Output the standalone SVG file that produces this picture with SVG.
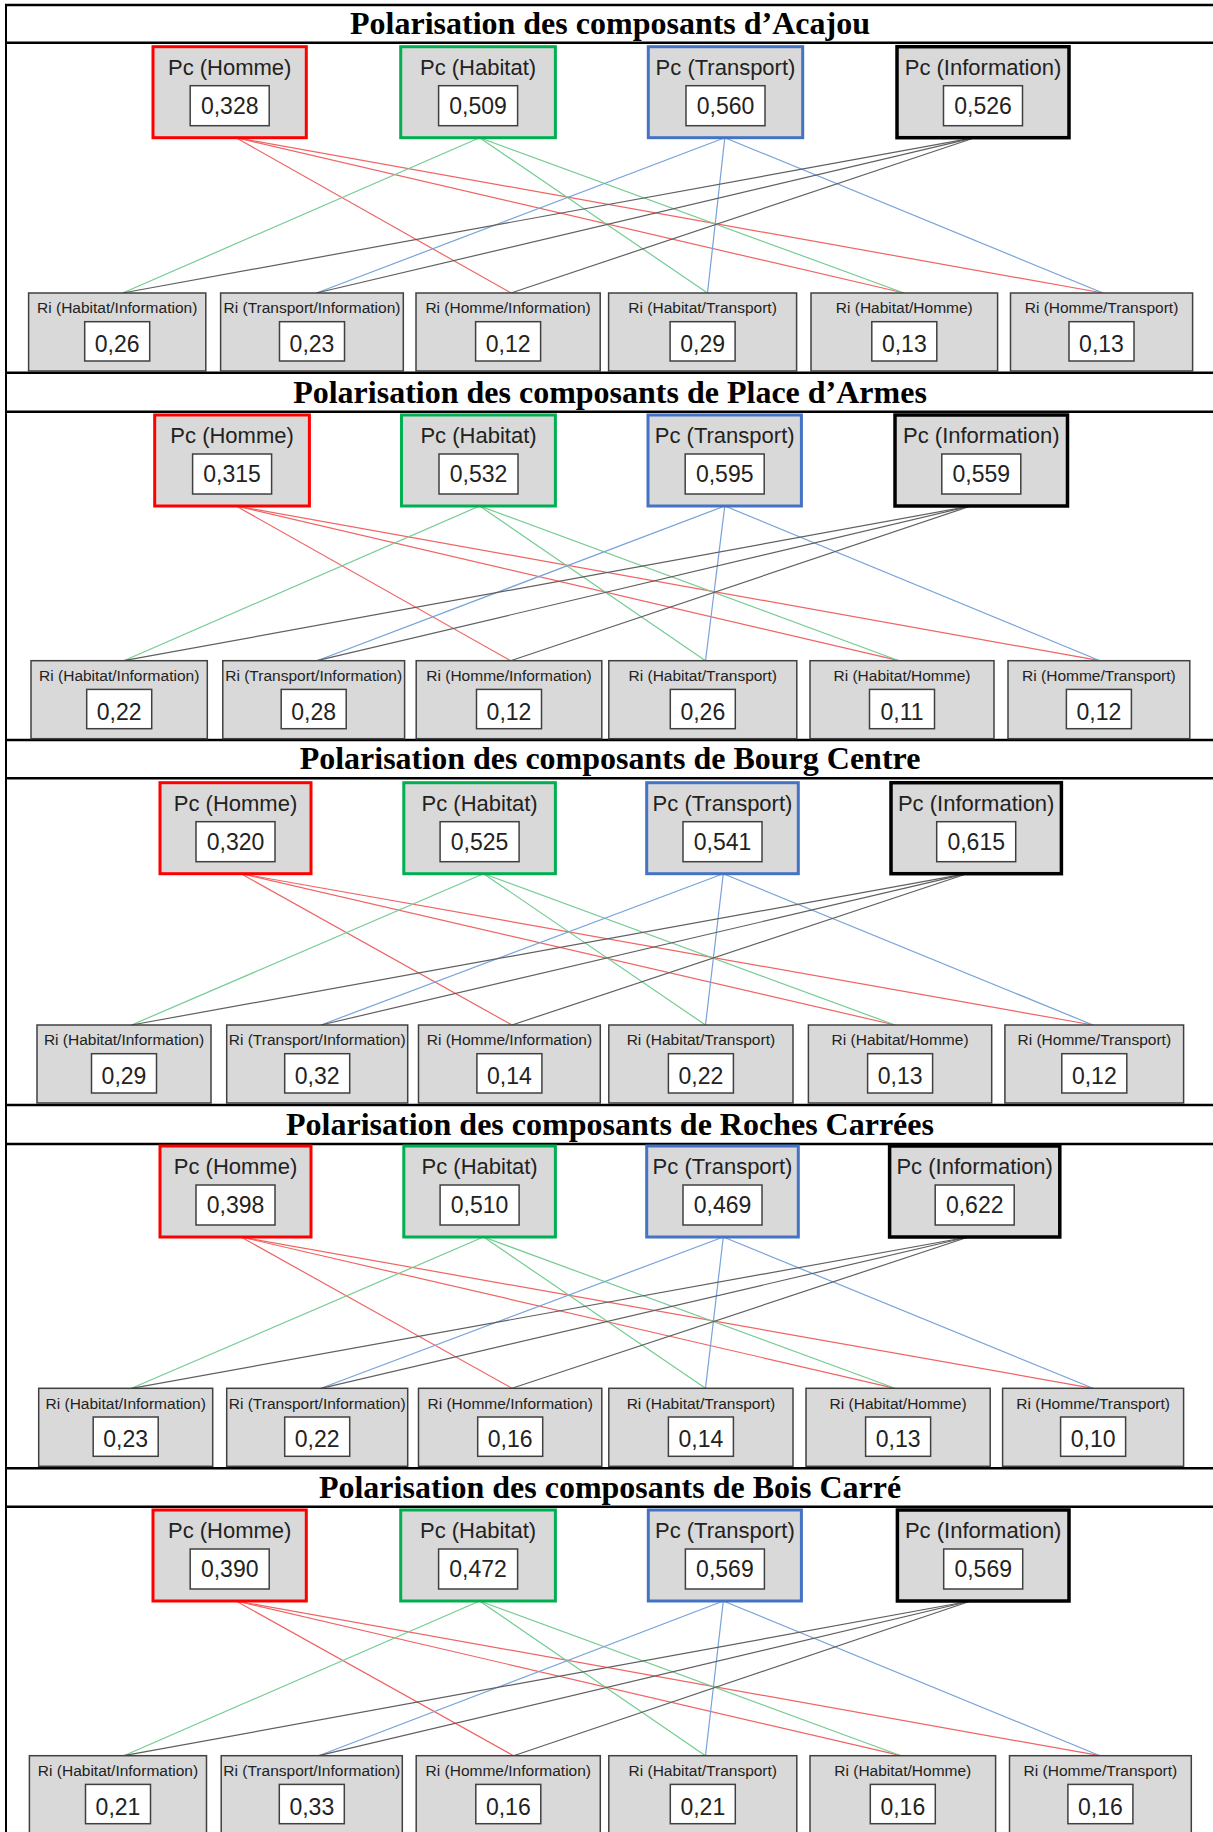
<svg xmlns="http://www.w3.org/2000/svg" width="1213" height="1832" viewBox="0 0 1213 1832">
<style>
  .bg{fill:#ffffff}
  .rule{stroke:#000;stroke-width:2.5}
  .edge{stroke:#000;stroke-width:2}
  .title{font-family:"Liberation Serif","Times New Roman",serif;font-weight:bold;font-size:32px;fill:#000;text-anchor:middle}
  .box{fill:#d9d9d9;stroke-width:3}
  .h{stroke:#ff0000}
  .hab{stroke:#00b050}
  .t{stroke:#4472c4}
  .i{stroke:#000000;stroke-width:3.5}
  .ri{fill:#d9d9d9;stroke:#404040;stroke-width:1.5}
  .val{fill:#ffffff;stroke:#404040;stroke-width:1.5}
  text{font-family:"Liberation Sans",Arial,sans-serif;fill:#222;text-anchor:middle}
  .pl{font-size:22px}
  .pv{font-size:23px}
  .rl{font-size:15.5px}
  .rv{font-size:23px}
  .c{stroke-width:1.2;fill:none}
  .cr{stroke:#f06464}
  .cg{stroke:#74cc92}
  .cb{stroke:#78a2da}
  .ck{stroke:#606060}
</style>
<rect class="bg" x="0" y="0" width="1213" height="1832"/>

<!-- connectors: each Pc links to the three Ri pairs it takes part in -->
<g id="connectors" class="c">
  <!-- Acajou -->
  <line class="cr" x1="236" y1="137.7" x2="511" y2="293"/>
  <line class="cr" x1="236" y1="137.7" x2="904" y2="293"/>
  <line class="cr" x1="236" y1="137.7" x2="1103" y2="293"/>
  <line class="cg" x1="479.6" y1="137.7" x2="122.6" y2="293"/>
  <line class="cg" x1="479.6" y1="137.7" x2="707.5" y2="293"/>
  <line class="cg" x1="479.6" y1="137.7" x2="904" y2="293"/>
  <line class="cb" x1="724.8" y1="137.7" x2="316.5" y2="293"/>
  <line class="cb" x1="724.8" y1="137.7" x2="707.5" y2="293"/>
  <line class="cb" x1="724.8" y1="137.7" x2="1103" y2="293"/>
  <line class="ck" x1="974.7" y1="137.7" x2="122.6" y2="293"/>
  <line class="ck" x1="974.7" y1="137.7" x2="316.5" y2="293"/>
  <line class="ck" x1="974.7" y1="137.7" x2="511" y2="293"/>
  <!-- Place d'Armes -->
  <line class="cr" x1="236" y1="506" x2="510.6" y2="660.7"/>
  <line class="cr" x1="236" y1="506" x2="899" y2="660.7"/>
  <line class="cr" x1="236" y1="506" x2="1100" y2="660.7"/>
  <line class="cg" x1="479.6" y1="506" x2="123.8" y2="660.7"/>
  <line class="cg" x1="479.6" y1="506" x2="705.5" y2="660.7"/>
  <line class="cg" x1="479.6" y1="506" x2="899" y2="660.7"/>
  <line class="cb" x1="724.8" y1="506" x2="317" y2="660.7"/>
  <line class="cb" x1="724.8" y1="506" x2="705.5" y2="660.7"/>
  <line class="cb" x1="724.8" y1="506" x2="1100" y2="660.7"/>
  <line class="ck" x1="970.8" y1="506" x2="123.8" y2="660.7"/>
  <line class="ck" x1="970.8" y1="506" x2="317" y2="660.7"/>
  <line class="ck" x1="970.8" y1="506" x2="510.6" y2="660.7"/>
  <!-- Bourg Centre -->
  <line class="cr" x1="241" y1="873.7" x2="512" y2="1025"/>
  <line class="cr" x1="241" y1="873.7" x2="895" y2="1025"/>
  <line class="cr" x1="241" y1="873.7" x2="1093" y2="1025"/>
  <line class="cg" x1="483.5" y1="873.7" x2="131.5" y2="1025"/>
  <line class="cg" x1="483.5" y1="873.7" x2="705.5" y2="1025"/>
  <line class="cg" x1="483.5" y1="873.7" x2="895" y2="1025"/>
  <line class="cb" x1="723.3" y1="873.7" x2="321" y2="1025"/>
  <line class="cb" x1="723.3" y1="873.7" x2="705.5" y2="1025"/>
  <line class="cb" x1="723.3" y1="873.7" x2="1093" y2="1025"/>
  <line class="ck" x1="967" y1="873.7" x2="131.5" y2="1025"/>
  <line class="ck" x1="967" y1="873.7" x2="321" y2="1025"/>
  <line class="ck" x1="967" y1="873.7" x2="512" y2="1025"/>
  <!-- Roches Carrées -->
  <line class="cr" x1="241" y1="1237" x2="512" y2="1388.3"/>
  <line class="cr" x1="241" y1="1237" x2="895" y2="1388.3"/>
  <line class="cr" x1="241" y1="1237" x2="1093" y2="1388.3"/>
  <line class="cg" x1="483.5" y1="1237" x2="131.5" y2="1388.3"/>
  <line class="cg" x1="483.5" y1="1237" x2="705.5" y2="1388.3"/>
  <line class="cg" x1="483.5" y1="1237" x2="895" y2="1388.3"/>
  <line class="cb" x1="723.3" y1="1237" x2="321" y2="1388.3"/>
  <line class="cb" x1="723.3" y1="1237" x2="705.5" y2="1388.3"/>
  <line class="cb" x1="723.3" y1="1237" x2="1093" y2="1388.3"/>
  <line class="ck" x1="968.5" y1="1237" x2="131.5" y2="1388.3"/>
  <line class="ck" x1="968.5" y1="1237" x2="321" y2="1388.3"/>
  <line class="ck" x1="968.5" y1="1237" x2="512" y2="1388.3"/>
  <!-- Bois Carré -->
  <line class="cr" x1="236" y1="1601" x2="513.6" y2="1755.7"/>
  <line class="cr" x1="236" y1="1601" x2="901" y2="1755.7"/>
  <line class="cr" x1="236" y1="1601" x2="1100" y2="1755.7"/>
  <line class="cg" x1="479.6" y1="1601" x2="123.8" y2="1755.7"/>
  <line class="cg" x1="479.6" y1="1601" x2="705.5" y2="1755.7"/>
  <line class="cg" x1="479.6" y1="1601" x2="901" y2="1755.7"/>
  <line class="cb" x1="723.3" y1="1601" x2="318.7" y2="1755.7"/>
  <line class="cb" x1="723.3" y1="1601" x2="705.5" y2="1755.7"/>
  <line class="cb" x1="723.3" y1="1601" x2="1100" y2="1755.7"/>
  <line class="ck" x1="970.8" y1="1601" x2="123.8" y2="1755.7"/>
  <line class="ck" x1="970.8" y1="1601" x2="318.7" y2="1755.7"/>
  <line class="ck" x1="970.8" y1="1601" x2="513.6" y2="1755.7"/>
</g>

<!-- table rules -->
<g id="rules">
  <line class="edge" x1="6" y1="4" x2="6" y2="1832"/>
  <line class="rule" x1="5" y1="5" x2="1213" y2="5"/>
  <line class="rule" x1="5" y1="42.7" x2="1213" y2="42.7"/>
  <line class="rule" x1="5" y1="372.7" x2="1213" y2="372.7"/>
  <line class="rule" x1="5" y1="411.7" x2="1213" y2="411.7"/>
  <line class="rule" x1="5" y1="740" x2="1213" y2="740"/>
  <line class="rule" x1="5" y1="778.3" x2="1213" y2="778.3"/>
  <line class="rule" x1="5" y1="1105" x2="1213" y2="1105"/>
  <line class="rule" x1="5" y1="1144" x2="1213" y2="1144"/>
  <line class="rule" x1="5" y1="1468.3" x2="1213" y2="1468.3"/>
  <line class="rule" x1="5" y1="1506.7" x2="1213" y2="1506.7"/>
</g>

<!-- ===== Acajou ===== -->
<g id="acajou">
  <text class="title" x="610" y="34">Polarisation des composants d’Acajou</text>
  <g id="acajou-pc-homme" transform="translate(153,46.7)"><rect class="box h" width="153.3" height="91"/><rect class="val" x="37.2" y="39" width="79" height="40"/><text class="pl" x="76.7" y="28.3">Pc (Homme)</text><text class="pv" x="76.7" y="67">0,328</text></g>
  <g id="acajou-pc-habitat" transform="translate(400.7,46.7)"><rect class="box hab" width="154.7" height="91"/><rect class="val" x="37.9" y="39" width="79" height="40"/><text class="pl" x="77.4" y="28.3">Pc (Habitat)</text><text class="pv" x="77.4" y="67">0,509</text></g>
  <g id="acajou-pc-transport" transform="translate(648.3,46.7)"><rect class="box t" width="154.4" height="91"/><rect class="val" x="37.7" y="39" width="79" height="40"/><text class="pl" x="77.2" y="28.3">Pc (Transport)</text><text class="pv" x="77.2" y="67">0,560</text></g>
  <g id="acajou-pc-information" transform="translate(897,46.7)"><rect class="box i" width="172" height="91"/><rect class="val" x="46.5" y="39" width="79" height="40"/><text class="pl" x="86" y="28.3">Pc (Information)</text><text class="pv" x="86" y="67">0,526</text></g>
  <g id="acajou-ri-habitat-information" transform="translate(28.6,293)"><rect class="ri" width="177.2" height="78"/><rect class="val" x="56.1" y="28.7" width="65" height="39.3"/><text class="rl" x="88.6" y="20.3">Ri (Habitat/Information)</text><text class="rv" x="88.6" y="59">0,26</text></g>
  <g id="acajou-ri-transport-information" transform="translate(220.6,293)"><rect class="ri" width="182.7" height="78"/><rect class="val" x="58.9" y="28.7" width="65" height="39.3"/><text class="rl" x="91.4" y="20.3">Ri (Transport/Information)</text><text class="rv" x="91.4" y="59">0,23</text></g>
  <g id="acajou-ri-homme-information" transform="translate(416,293)"><rect class="ri" width="184.2" height="78"/><rect class="val" x="59.6" y="28.7" width="65" height="39.3"/><text class="rl" x="92.1" y="20.3">Ri (Homme/Information)</text><text class="rv" x="92.1" y="59">0,12</text></g>
  <g id="acajou-ri-habitat-transport" transform="translate(608.6,293)"><rect class="ri" width="188" height="78"/><rect class="val" x="61.5" y="28.7" width="65" height="39.3"/><text class="rl" x="94" y="20.3">Ri (Habitat/Transport)</text><text class="rv" x="94" y="59">0,29</text></g>
  <g id="acajou-ri-habitat-homme" transform="translate(811,293)"><rect class="ri" width="186.6" height="78"/><rect class="val" x="60.8" y="28.7" width="65" height="39.3"/><text class="rl" x="93.3" y="20.3">Ri (Habitat/Homme)</text><text class="rv" x="93.3" y="59">0,13</text></g>
  <g id="acajou-ri-homme-transport" transform="translate(1010.5,293)"><rect class="ri" width="182.1" height="78"/><rect class="val" x="58.5" y="28.7" width="65" height="39.3"/><text class="rl" x="91" y="20.3">Ri (Homme/Transport)</text><text class="rv" x="91" y="59">0,13</text></g>
</g>

<!-- ===== Place d'Armes ===== -->
<g id="place-armes">
  <text class="title" x="610" y="402.7">Polarisation des composants de Place d’Armes</text>
  <g id="place-armes-pc-homme" transform="translate(154.7,415)"><rect class="box h" width="154.7" height="91"/><rect class="val" x="37.9" y="39" width="79" height="40"/><text class="pl" x="77.4" y="28.3">Pc (Homme)</text><text class="pv" x="77.4" y="67">0,315</text></g>
  <g id="place-armes-pc-habitat" transform="translate(401.5,415)"><rect class="box hab" width="153.9" height="91"/><rect class="val" x="37.5" y="39" width="79" height="40"/><text class="pl" x="77" y="28.3">Pc (Habitat)</text><text class="pv" x="77" y="67">0,532</text></g>
  <g id="place-armes-pc-transport" transform="translate(648,415)"><rect class="box t" width="153.4" height="91"/><rect class="val" x="37.2" y="39" width="79" height="40"/><text class="pl" x="76.7" y="28.3">Pc (Transport)</text><text class="pv" x="76.7" y="67">0,595</text></g>
  <g id="place-armes-pc-information" transform="translate(895,415)"><rect class="box i" width="172.5" height="91"/><rect class="val" x="46.8" y="39" width="79" height="40"/><text class="pl" x="86.3" y="28.3">Pc (Information)</text><text class="pv" x="86.3" y="67">0,559</text></g>
  <g id="place-armes-ri-habitat-information" transform="translate(31,660.7)"><rect class="ri" width="176.3" height="78"/><rect class="val" x="55.7" y="28.7" width="65" height="39.3"/><text class="rl" x="88.2" y="20.3">Ri (Habitat/Information)</text><text class="rv" x="88.2" y="59">0,22</text></g>
  <g id="place-armes-ri-transport-information" transform="translate(222.8,660.7)"><rect class="ri" width="181.8" height="78"/><rect class="val" x="58.4" y="28.7" width="65" height="39.3"/><text class="rl" x="90.9" y="20.3">Ri (Transport/Information)</text><text class="rv" x="90.9" y="59">0,28</text></g>
  <g id="place-armes-ri-homme-information" transform="translate(416.2,660.7)"><rect class="ri" width="185.6" height="78"/><rect class="val" x="60.3" y="28.7" width="65" height="39.3"/><text class="rl" x="92.8" y="20.3">Ri (Homme/Information)</text><text class="rv" x="92.8" y="59">0,12</text></g>
  <g id="place-armes-ri-habitat-transport" transform="translate(608.8,660.7)"><rect class="ri" width="188" height="78"/><rect class="val" x="61.5" y="28.7" width="65" height="39.3"/><text class="rl" x="94" y="20.3">Ri (Habitat/Transport)</text><text class="rv" x="94" y="59">0,26</text></g>
  <g id="place-armes-ri-habitat-homme" transform="translate(810,660.7)"><rect class="ri" width="184" height="78"/><rect class="val" x="59.5" y="28.7" width="65" height="39.3"/><text class="rl" x="92" y="20.3">Ri (Habitat/Homme)</text><text class="rv" x="92" y="59">0,11</text></g>
  <g id="place-armes-ri-homme-transport" transform="translate(1008,660.7)"><rect class="ri" width="181.8" height="78"/><rect class="val" x="58.4" y="28.7" width="65" height="39.3"/><text class="rl" x="90.9" y="20.3">Ri (Homme/Transport)</text><text class="rv" x="90.9" y="59">0,12</text></g>
</g>

<!-- ===== Bourg Centre ===== -->
<g id="bourg-centre">
  <text class="title" x="610" y="769.3">Polarisation des composants de Bourg Centre</text>
  <g id="bourg-centre-pc-homme" transform="translate(160,782.7)"><rect class="box h" width="151" height="91"/><rect class="val" x="36" y="39" width="79" height="40"/><text class="pl" x="75.5" y="28.3">Pc (Homme)</text><text class="pv" x="75.5" y="67">0,320</text></g>
  <g id="bourg-centre-pc-habitat" transform="translate(403.8,782.7)"><rect class="box hab" width="151.6" height="91"/><rect class="val" x="36.3" y="39" width="79" height="40"/><text class="pl" x="75.8" y="28.3">Pc (Habitat)</text><text class="pv" x="75.8" y="67">0,525</text></g>
  <g id="bourg-centre-pc-transport" transform="translate(646.7,782.7)"><rect class="box t" width="151.6" height="91"/><rect class="val" x="36.3" y="39" width="79" height="40"/><text class="pl" x="75.8" y="28.3">Pc (Transport)</text><text class="pv" x="75.8" y="67">0,541</text></g>
  <g id="bourg-centre-pc-information" transform="translate(891,782.7)"><rect class="box i" width="170.4" height="91"/><rect class="val" x="45.7" y="39" width="79" height="40"/><text class="pl" x="85.2" y="28.3">Pc (Information)</text><text class="pv" x="85.2" y="67">0,615</text></g>
  <g id="bourg-centre-ri-habitat-information" transform="translate(37,1025)"><rect class="ri" width="174" height="78"/><rect class="val" x="54.5" y="28.7" width="65" height="39.3"/><text class="rl" x="87" y="20.3">Ri (Habitat/Information)</text><text class="rv" x="87" y="59">0,29</text></g>
  <g id="bourg-centre-ri-transport-information" transform="translate(226.7,1025)"><rect class="ri" width="181" height="78"/><rect class="val" x="58" y="28.7" width="65" height="39.3"/><text class="rl" x="90.5" y="20.3">Ri (Transport/Information)</text><text class="rv" x="90.5" y="59">0,32</text></g>
  <g id="bourg-centre-ri-homme-information" transform="translate(418.5,1025)"><rect class="ri" width="181.8" height="78"/><rect class="val" x="58.4" y="28.7" width="65" height="39.3"/><text class="rl" x="90.9" y="20.3">Ri (Homme/Information)</text><text class="rv" x="90.9" y="59">0,14</text></g>
  <g id="bourg-centre-ri-habitat-transport" transform="translate(608.8,1025)"><rect class="ri" width="184.2" height="78"/><rect class="val" x="59.6" y="28.7" width="65" height="39.3"/><text class="rl" x="92.1" y="20.3">Ri (Habitat/Transport)</text><text class="rv" x="92.1" y="59">0,22</text></g>
  <g id="bourg-centre-ri-habitat-homme" transform="translate(808.4,1025)"><rect class="ri" width="183.3" height="78"/><rect class="val" x="59.2" y="28.7" width="65" height="39.3"/><text class="rl" x="91.7" y="20.3">Ri (Habitat/Homme)</text><text class="rv" x="91.7" y="59">0,13</text></g>
  <g id="bourg-centre-ri-homme-transport" transform="translate(1004.9,1025)"><rect class="ri" width="178.7" height="78"/><rect class="val" x="56.9" y="28.7" width="65" height="39.3"/><text class="rl" x="89.4" y="20.3">Ri (Homme/Transport)</text><text class="rv" x="89.4" y="59">0,12</text></g>
</g>

<!-- ===== Roches Carrées ===== -->
<g id="roches-carrees">
  <text class="title" x="610" y="1135">Polarisation des composants de Roches Carrées</text>
  <g id="roches-carrees-pc-homme" transform="translate(160,1146)"><rect class="box h" width="151" height="91"/><rect class="val" x="36" y="39" width="79" height="40"/><text class="pl" x="75.5" y="28.3">Pc (Homme)</text><text class="pv" x="75.5" y="67">0,398</text></g>
  <g id="roches-carrees-pc-habitat" transform="translate(403.8,1146)"><rect class="box hab" width="151.6" height="91"/><rect class="val" x="36.3" y="39" width="79" height="40"/><text class="pl" x="75.8" y="28.3">Pc (Habitat)</text><text class="pv" x="75.8" y="67">0,510</text></g>
  <g id="roches-carrees-pc-transport" transform="translate(646.7,1146)"><rect class="box t" width="151.6" height="91"/><rect class="val" x="36.3" y="39" width="79" height="40"/><text class="pl" x="75.8" y="28.3">Pc (Transport)</text><text class="pv" x="75.8" y="67">0,469</text></g>
  <g id="roches-carrees-pc-information" transform="translate(889.6,1146)"><rect class="box i" width="170.2" height="91"/><rect class="val" x="45.6" y="39" width="79" height="40"/><text class="pl" x="85.1" y="28.3">Pc (Information)</text><text class="pv" x="85.1" y="67">0,622</text></g>
  <g id="roches-carrees-ri-habitat-information" transform="translate(38.7,1388.3)"><rect class="ri" width="174" height="78"/><rect class="val" x="54.5" y="28.7" width="65" height="39.3"/><text class="rl" x="87" y="20.3">Ri (Habitat/Information)</text><text class="rv" x="87" y="59">0,23</text></g>
  <g id="roches-carrees-ri-transport-information" transform="translate(226.7,1388.3)"><rect class="ri" width="181" height="78"/><rect class="val" x="58" y="28.7" width="65" height="39.3"/><text class="rl" x="90.5" y="20.3">Ri (Transport/Information)</text><text class="rv" x="90.5" y="59">0,22</text></g>
  <g id="roches-carrees-ri-homme-information" transform="translate(418.5,1388.3)"><rect class="ri" width="183.3" height="78"/><rect class="val" x="59.2" y="28.7" width="65" height="39.3"/><text class="rl" x="91.7" y="20.3">Ri (Homme/Information)</text><text class="rv" x="91.7" y="59">0,16</text></g>
  <g id="roches-carrees-ri-habitat-transport" transform="translate(608.8,1388.3)"><rect class="ri" width="184.2" height="78"/><rect class="val" x="59.6" y="28.7" width="65" height="39.3"/><text class="rl" x="92.1" y="20.3">Ri (Habitat/Transport)</text><text class="rv" x="92.1" y="59">0,14</text></g>
  <g id="roches-carrees-ri-habitat-homme" transform="translate(806,1388.3)"><rect class="ri" width="184.2" height="78"/><rect class="val" x="59.6" y="28.7" width="65" height="39.3"/><text class="rl" x="92.1" y="20.3">Ri (Habitat/Homme)</text><text class="rv" x="92.1" y="59">0,13</text></g>
  <g id="roches-carrees-ri-homme-transport" transform="translate(1002.6,1388.3)"><rect class="ri" width="181" height="78"/><rect class="val" x="58" y="28.7" width="65" height="39.3"/><text class="rl" x="90.5" y="20.3">Ri (Homme/Transport)</text><text class="rv" x="90.5" y="59">0,10</text></g>
</g>

<!-- ===== Bois Carré ===== -->
<g id="bois-carre">
  <text class="title" x="610" y="1497.7">Polarisation des composants de Bois Carré</text>
  <g id="bois-carre-pc-homme" transform="translate(153,1510)"><rect class="box h" width="153.3" height="91"/><rect class="val" x="37.2" y="39" width="79" height="40"/><text class="pl" x="76.7" y="28.3">Pc (Homme)</text><text class="pv" x="76.7" y="67">0,390</text></g>
  <g id="bois-carre-pc-habitat" transform="translate(400.7,1510)"><rect class="box hab" width="154.7" height="91"/><rect class="val" x="37.9" y="39" width="79" height="40"/><text class="pl" x="77.4" y="28.3">Pc (Habitat)</text><text class="pv" x="77.4" y="67">0,472</text></g>
  <g id="bois-carre-pc-transport" transform="translate(648.3,1510)"><rect class="box t" width="153.1" height="91"/><rect class="val" x="37.1" y="39" width="79" height="40"/><text class="pl" x="76.6" y="28.3">Pc (Transport)</text><text class="pv" x="76.6" y="67">0,569</text></g>
  <g id="bois-carre-pc-information" transform="translate(897.4,1510)"><rect class="box i" width="171.6" height="91"/><rect class="val" x="46.3" y="39" width="79" height="40"/><text class="pl" x="85.8" y="28.3">Pc (Information)</text><text class="pv" x="85.8" y="67">0,569</text></g>
  <g id="bois-carre-ri-habitat-information" transform="translate(29.4,1755.7)"><rect class="ri" width="177.1" height="90"/><rect class="val" x="56.1" y="28.7" width="65" height="39.3"/><text class="rl" x="88.6" y="20.3">Ri (Habitat/Information)</text><text class="rv" x="88.6" y="59">0,21</text></g>
  <g id="bois-carre-ri-transport-information" transform="translate(221.2,1755.7)"><rect class="ri" width="181.1" height="90"/><rect class="val" x="58.1" y="28.7" width="65" height="39.3"/><text class="rl" x="90.6" y="20.3">Ri (Transport/Information)</text><text class="rv" x="90.6" y="59">0,33</text></g>
  <g id="bois-carre-ri-homme-information" transform="translate(416.2,1755.7)"><rect class="ri" width="184.1" height="90"/><rect class="val" x="59.6" y="28.7" width="65" height="39.3"/><text class="rl" x="92.1" y="20.3">Ri (Homme/Information)</text><text class="rv" x="92.1" y="59">0,16</text></g>
  <g id="bois-carre-ri-habitat-transport" transform="translate(608.8,1755.7)"><rect class="ri" width="188" height="90"/><rect class="val" x="61.5" y="28.7" width="65" height="39.3"/><text class="rl" x="94" y="20.3">Ri (Habitat/Transport)</text><text class="rv" x="94" y="59">0,21</text></g>
  <g id="bois-carre-ri-habitat-homme" transform="translate(810,1755.7)"><rect class="ri" width="185.6" height="90"/><rect class="val" x="60.3" y="28.7" width="65" height="39.3"/><text class="rl" x="92.8" y="20.3">Ri (Habitat/Homme)</text><text class="rv" x="92.8" y="59">0,16</text></g>
  <g id="bois-carre-ri-homme-transport" transform="translate(1009.5,1755.7)"><rect class="ri" width="181.8" height="90"/><rect class="val" x="58.4" y="28.7" width="65" height="39.3"/><text class="rl" x="90.9" y="20.3">Ri (Homme/Transport)</text><text class="rv" x="90.9" y="59">0,16</text></g>
</g>
</svg>
